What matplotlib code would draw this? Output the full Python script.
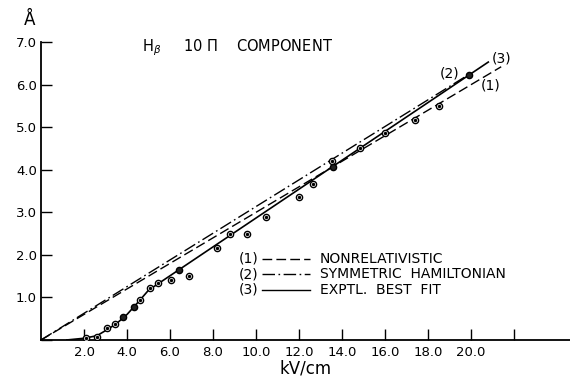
import matplotlib
matplotlib.use('Agg')
import matplotlib.pyplot as plt
from matplotlib.lines import Line2D

# measured points (kV/cm, Angstrom)
open_x = [2.09, 2.62, 3.05, 3.46, 4.60, 5.07, 5.43, 6.03, 6.87, 8.20, 8.79, 9.57,
          10.47, 12.0, 12.64, 13.52, 14.84, 16.0, 17.37, 18.53]
open_y = [0.05, 0.08, 0.27, 0.37, 0.95, 1.21, 1.35, 1.42, 1.51, 2.17, 2.50, 2.50,
          2.88, 3.36, 3.66, 4.20, 4.50, 4.87, 5.16, 5.49]
filled_x = [3.83, 4.33, 6.43, 13.57, 19.92]
filled_y = [0.53, 0.77, 1.64, 4.07, 6.22]

# theory curves
nonrel_x = [0, 21.4]
nonrel_y = [0, 6.42]
sym_x = [0, 19.9]
sym_y = [0, 6.24]
fit_x = [1.2, 2.0, 2.6, 3.0, 3.5, 4.0, 4.5, 5.0, 20.8]
fit_y = [0.0, 0.04, 0.10, 0.22, 0.38, 0.60, 0.88, 1.17, 6.53]

xticks = [2, 4, 6, 8, 10, 12, 14, 16, 18, 20, 22]
xlabels = ['2.0', '4.0', '6.0', '8.0', '10.0', '12.0', '14.0', '16.0', '18.0', '20.0', '']
yticks = [0, 1, 2, 3, 4, 5, 6, 7]
ylabels = ['', '1.0', '2.0', '3.0', '4.0', '5.0', '6.0', '7.0']

legend_labels = ['(1)', '(2)', '(3)']
legend_texts = ['NONRELATIVISTIC', 'SYMMETRIC  HAMILTONIAN', 'EXPTL.  BEST  FIT']

plt.rcParams['font.family'] = 'DejaVu Sans'

fig = plt.figure(figsize=(5.7, 3.79), dpi=100)
ax = fig.add_axes([0.072, 0.103, 0.928, 0.786])

dash1 = (0, (7, 3))
dash2 = (0, (9, 2.5, 1.2, 2.5))

ax.plot(nonrel_x, nonrel_y, color='black', lw=1.0, linestyle=dash1)
ax.plot(sym_x, sym_y, color='black', lw=1.0, linestyle=dash2)
ax.plot(fit_x, fit_y, color='black', lw=1.2, linestyle='-')

ax.scatter(open_x, open_y, s=20, facecolor='white', edgecolor='black', linewidth=1.0, zorder=3)
ax.scatter(open_x, open_y, s=2, color='black', zorder=4)
ax.scatter(filled_x, filled_y, s=20, facecolor='#222222', edgecolor='black', linewidth=1.0, zorder=3)

ax.set_xlim(0, 24.6)
ax.set_ylim(0, 7.0)
ax.spines['top'].set_visible(False)
ax.spines['right'].set_visible(False)
ax.spines['left'].set_linewidth(1.3)
ax.spines['bottom'].set_linewidth(1.3)

ax.set_xticks(xticks)
ax.set_xticklabels(xlabels, fontsize=9.5)
ax.set_yticks(yticks)
ax.set_yticklabels(ylabels, fontsize=9.5)
ax.tick_params(axis='both', direction='in', length=8, width=1.0, pad=4)
ax.tick_params(axis='y', pad=3)

ax.set_xlabel('kV/cm', fontsize=12, labelpad=1)
ax.text(-0.021, 1.074, 'Å', transform=ax.transAxes, fontsize=12, ha='center', va='center')

ax.text(0.19, 0.981, r'H$_{\beta}$     10 Π    COMPONENT', transform=ax.transAxes,
        fontsize=10.5, ha='left', va='center')

# curve labels
ax.text(18.98, 6.27, '(2)', fontsize=10, ha='center', va='center')
ax.text(21.4, 6.62, '(3)', fontsize=10, ha='center', va='center')
ax.text(20.93, 5.98, '(1)', fontsize=10, ha='center', va='center')

# legend drawn by hand
styles = [dash1, dash2, '-']
rows = [0.272, 0.221, 0.168]
for lab, txt, st, yy in zip(legend_labels, legend_texts, styles, rows):
    ax.text(0.392, yy, lab, transform=ax.transAxes, fontsize=10, ha='center', va='center')
    ax.add_line(Line2D([0.418, 0.508], [yy, yy], transform=ax.transAxes,
                       color='black', lw=1.0, linestyle=st))
    ax.text(0.527, yy, txt, transform=ax.transAxes, fontsize=10, ha='left', va='center')

fig.savefig('out.png', dpi=100)
